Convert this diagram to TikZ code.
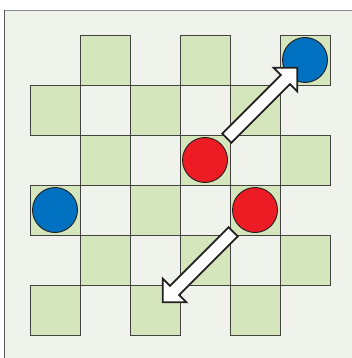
\documentclass[tikz,border=0pt]{standalone}
\usetikzlibrary{calc}
\definecolor{bgc}{HTML}{EFF3EC}
\definecolor{cellg}{HTML}{D5E6BD}
\definecolor{pred}{HTML}{ED1C24}
\definecolor{pblue}{HTML}{0070C0}
\definecolor{ink}{HTML}{231F20}
\definecolor{frametop}{HTML}{8C8C8C}
\definecolor{frameleft}{HTML}{555555}
\newcommand{\blockarrow}[2]{%
  \coordinate (ba-t) at ($(#1)!30.8pt!(#2)$);
  \coordinate (ba-b) at ($(#1)!113.7pt!(#2)$);
  \coordinate (ba-p) at ($(#1)!130.4pt!(#2)$);
  \draw[arrowbody] ($(ba-t)!6.4pt!90:(#2)$) -- ($(ba-b)!6.4pt!90:(#2)$)
    -- ($(ba-b)!16.7pt!90:(#2)$) -- (ba-p) -- ($(ba-b)!16.7pt!-90:(#2)$)
    -- ($(ba-b)!6.4pt!-90:(#2)$) -- ($(ba-t)!6.4pt!-90:(#2)$) -- cycle;
}
\begin{document}
\begin{tikzpicture}[x=1pt,y=-1pt,
  cell/.style={rectangle, draw=ink!85, line width=0.8pt, fill=cellg, minimum size=50pt, inner sep=0pt},
  piece/.style={circle, draw=ink, line width=0.9pt, minimum size=45pt, inner sep=0pt},
  arrowbody/.style={draw=ink, fill=white, line width=1.8pt, line join=miter}]
\useasboundingbox (0,0) rectangle (352,358);
\fill[bgc] (4.5,10.5) rectangle (352,358);
\draw[frametop, line width=1.5pt] (4.5,10.5) -- (352,10.5);
\draw[frameleft, line width=1.5pt] (4.5,10.5) -- (4.5,358);
\foreach \r in {0,...,5} {
  \foreach \c in {0,...,5} {
    \pgfmathparse{int(mod(\r+\c,2))}
    \ifnum\pgfmathresult=1
      \node[cell] (g\r\c) at ({55+50*\c},{60+50*\r}) {};
    \fi
  }
}
\node[piece, fill=pblue] (b1) at (305,60) {};
\node[piece, fill=pred] (r1) at (205,160) {};
\node[piece, fill=pblue] (b2) at (55,210) {};
\node[piece, fill=pred] (r2) at (255,210) {};
\blockarrow{r1}{b1}
\blockarrow{r2}{g52}
\end{tikzpicture}
\end{document}
